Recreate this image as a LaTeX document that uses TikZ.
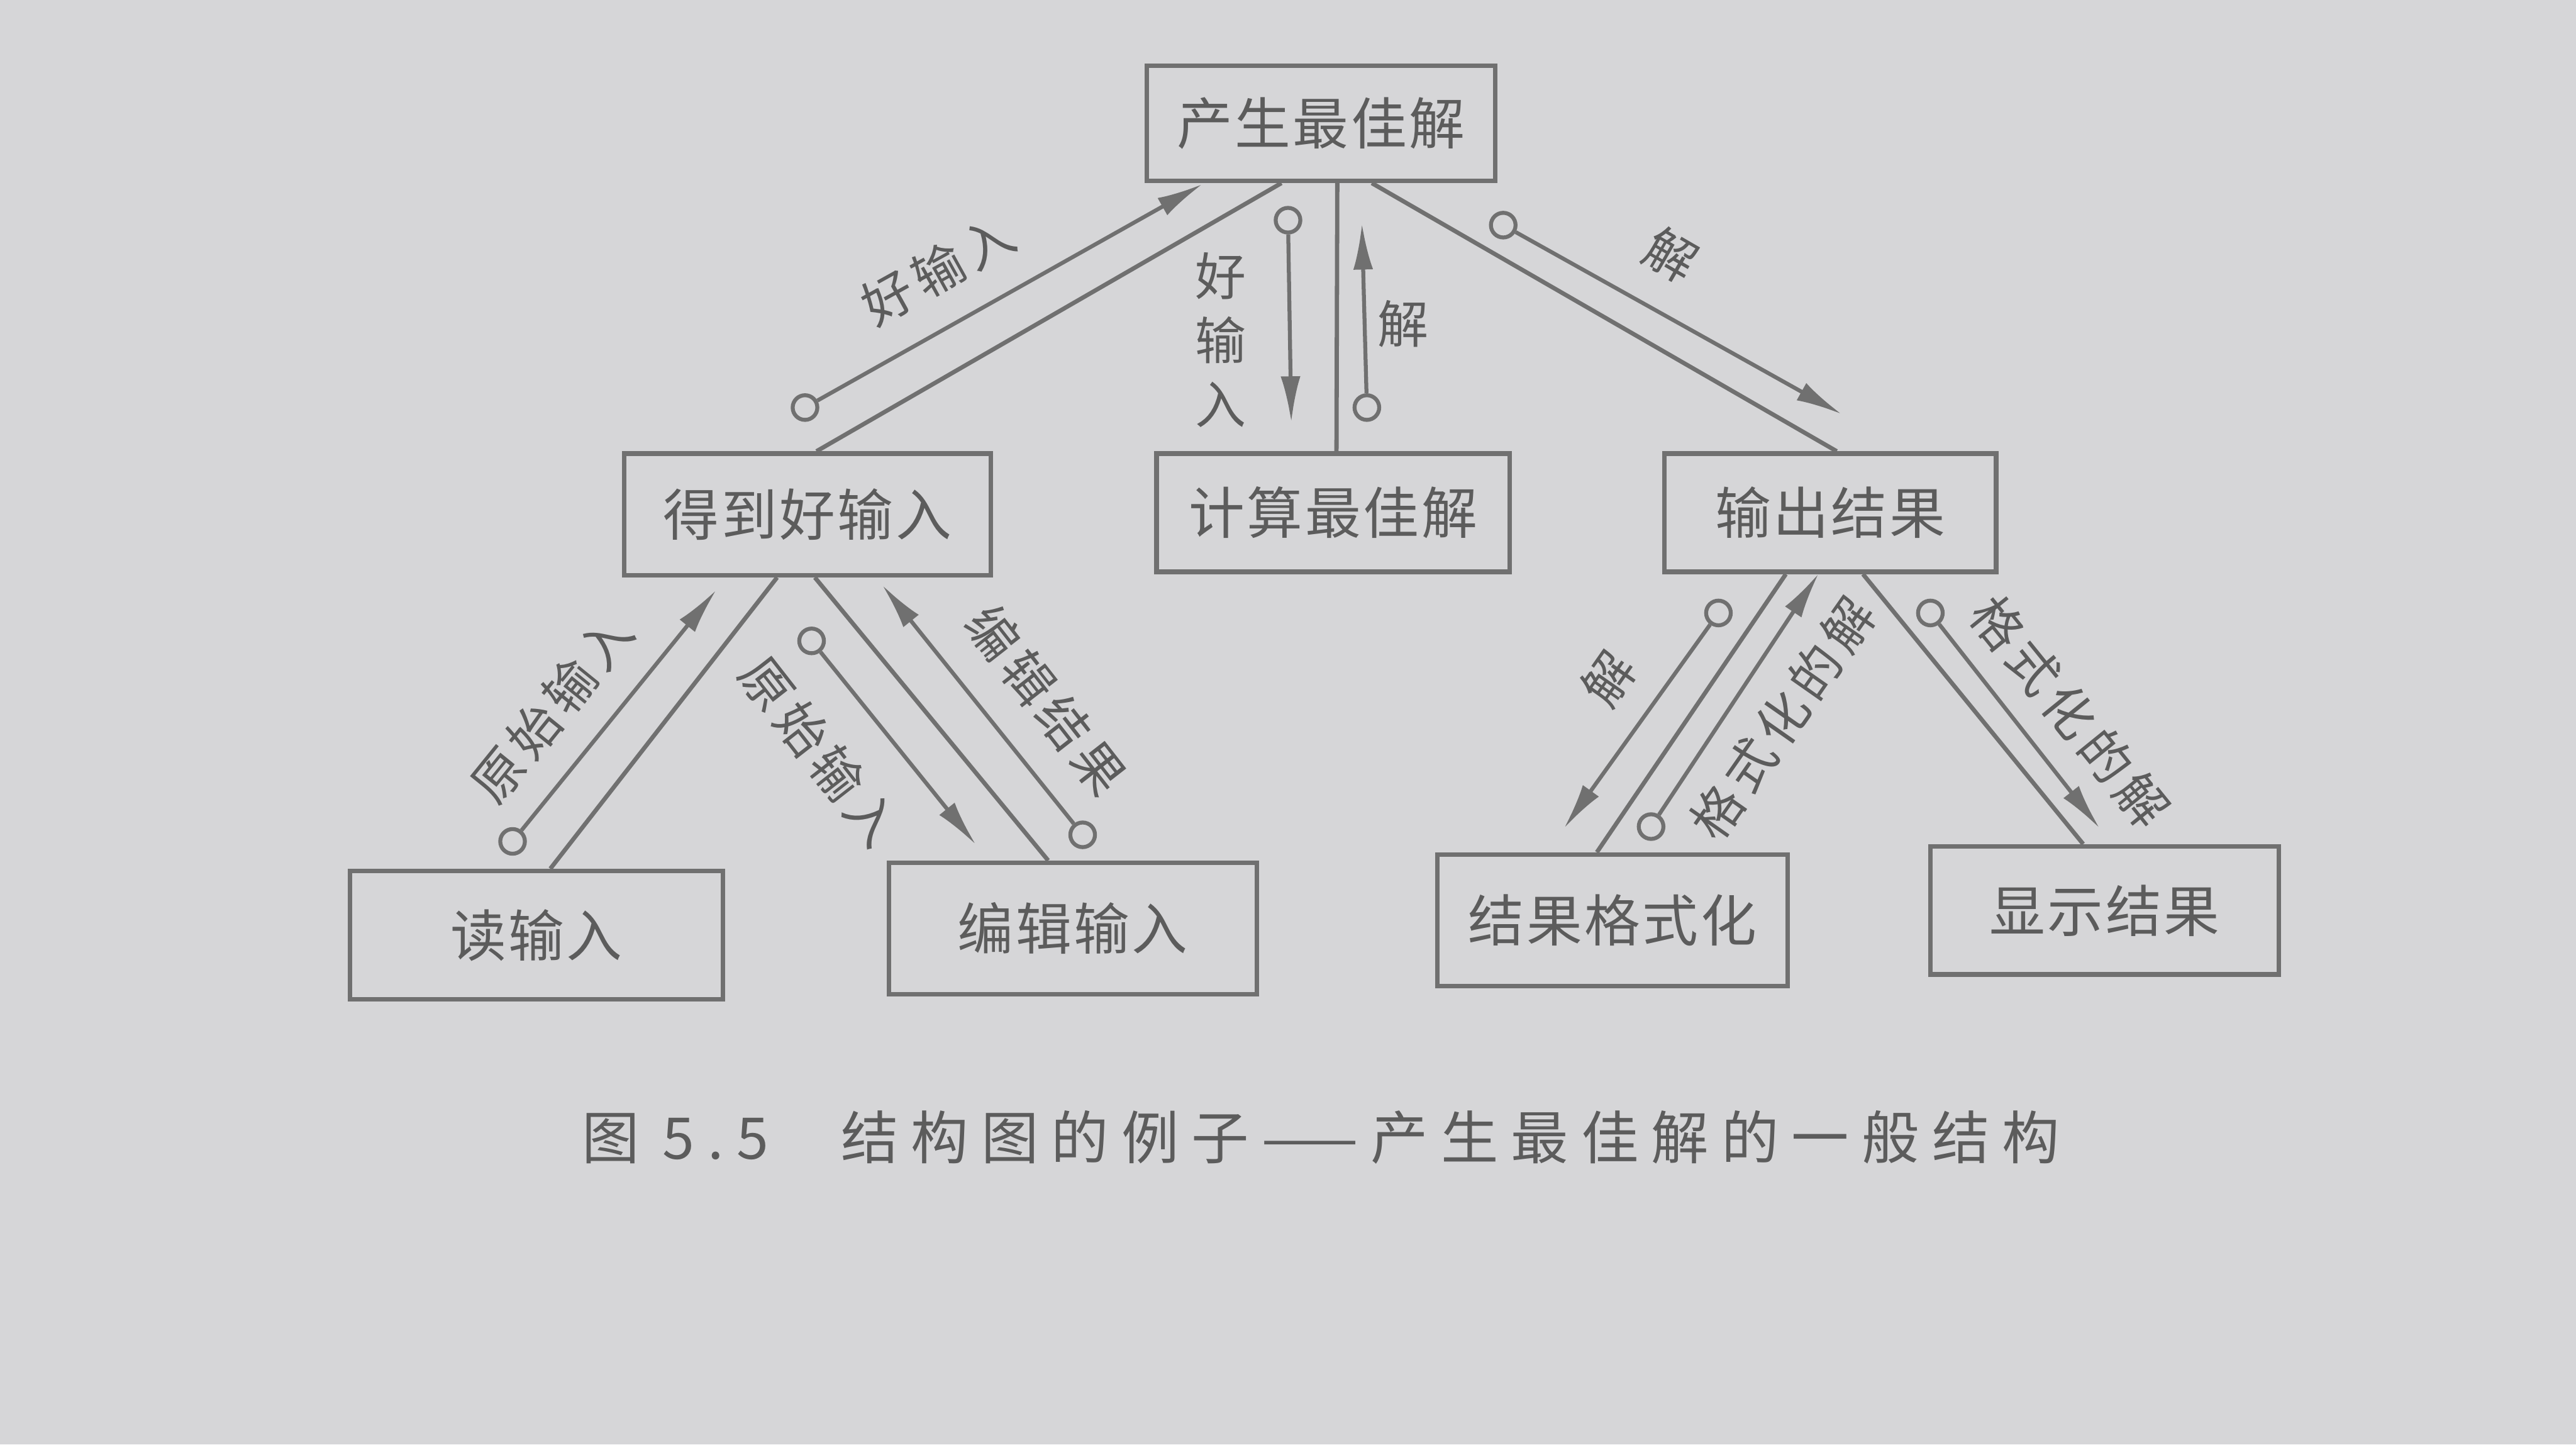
\documentclass[tikz,border=0pt]{standalone}
\usepackage{fontspec}
\setmainfont{Noto Sans CJK SC}
\newfontfamily\boxfont[LetterSpace=4]{Noto Sans CJK SC}
\newfontfamily\lblfont[LetterSpace=12]{Noto Sans CJK SC}
\newfontfamily\capfont[LetterSpace=22]{Noto Sans CJK SC}
\usetikzlibrary{arrows.meta,calc}
\definecolor{paper}{RGB}{214,214,216}
\definecolor{ink}{RGB}{112,112,112}
\definecolor{txt}{RGB}{92,92,92}
\begin{document}
\begin{tikzpicture}[x=1pt,y=-1pt,
  modbox/.style={draw=ink, line width=2.8pt, text=txt, font=\boxfont\fontsize{34}{40}\selectfont, inner sep=0pt},
  link/.style={draw=ink, line width=2.6pt},
  flow/.style={draw=ink, line width=2.4pt, -{Latex[length=28pt,width=12pt]}},
  dot/.style={circle, draw=ink, line width=2.4pt, minimum size=15pt, inner sep=0pt},
  lbl/.style={text=txt, font=\lblfont\fontsize{31}{39}\selectfont, inner sep=0pt},
]
\useasboundingbox (0,0) rectangle (1568,879);
\fill[paper] (0,0) rectangle (1568,879);

% modules
\node[modbox, minimum width=212pt, minimum height=70pt] (top) at (804,75) {产生最佳解};
\node[modbox, minimum width=223pt, minimum height=74pt] (gi) at (491.5,313) {得到好输入};
\node[modbox, minimum width=215pt, minimum height=72pt] (cb) at (811.5,312) {计算最佳解};
\node[modbox, minimum width=202pt, minimum height=72pt] (out) at (1114,312) {输出结果};
\node[modbox, minimum width=227pt, minimum height=78pt] (rd) at (326.5,569) {读输入};
\node[modbox, minimum width=224pt, minimum height=80pt] (ed) at (653,565) {编辑输入};
\node[modbox, minimum width=213pt, minimum height=80pt] (fm) at (981.5,560) {结果格式化};
\node[modbox, minimum width=212pt, minimum height=78pt] (ds) at (1281,554) {显示结果};

% calls
\draw[link] ([xshift=5.5pt]gi.north) -- ([xshift=-24pt]top.south);
\draw[link] ([xshift=2pt]cb.north) -- ([xshift=10pt]top.south);
\draw[link] ([xshift=4pt]out.north) -- ([xshift=31pt]top.south);
\draw[link] ([xshift=8.5pt]rd.north) -- ([xshift=-18.5pt]gi.south);
\draw[link] ([xshift=-15pt]ed.north) -- ([xshift=4.5pt]gi.south);
\draw[link] ([xshift=-9.5pt]fm.north) -- ([xshift=-27pt]out.south);
\draw[link] ([xshift=-13pt]ds.north) -- ([xshift=20pt]out.south);

% data flows
\node[dot] (c1) at (490,248) {};   \coordinate (t1) at (732,112);
\node[dot] (c2) at (784,134) {};   \coordinate (t2) at (786,257);
\node[dot] (c3) at (832,248) {};   \coordinate (t3) at (829,136);
\node[dot] (c4) at (915,137) {};   \coordinate (t4) at (1121,252);
\node[dot] (c5) at (312,512) {};   \coordinate (t5) at (436,359);
\node[dot] (c6) at (494,390) {};   \coordinate (t6) at (594,514);
\node[dot] (c7) at (659,508) {};   \coordinate (t7) at (537,356);
\node[dot] (c8) at (1046,373) {};  \coordinate (t8) at (952,504);
\node[dot] (c9) at (1005,503) {};  \coordinate (t9) at (1107,349);
\node[dot] (c10) at (1175,373) {}; \coordinate (t10) at (1278,504);
\foreach \i in {1,...,10} { \draw[flow] (c\i) -- (t\i); }

% labels
\node[lbl, rotate=29] (l1) at (571,164) {好输入};
\node[lbl, align=center] (l2) at (743,207) {好\\输\\入};
\node[lbl] (l3) at (854,197) {解};
\node[lbl, rotate=-30] (l4) at (1017,155) {解};
\node[lbl, rotate=51] (l5) at (336,431) {原始输入};
\node[lbl, rotate=-52] (l6) at (499,457) {原始输入};
\node[lbl, rotate=-52] (l7) at (637,426) {编辑结果};
\node[lbl, rotate=55] (l8) at (979,413) {解};
\node[lbl, rotate=55] (l9) at (1085,437) {格式化的解};
\node[lbl, rotate=-51] (l10) at (1260,433) {格式化的解};

% caption
\node[text=txt, font=\capfont\fontsize{35}{40}\selectfont, inner sep=0pt] (cap) at (804,692)
  {图\hspace{14pt}5\hspace{8pt}.\hspace{8pt}5\hspace{44pt}结构图的例子——产生最佳解的一般结构};
\end{tikzpicture}
\end{document}
